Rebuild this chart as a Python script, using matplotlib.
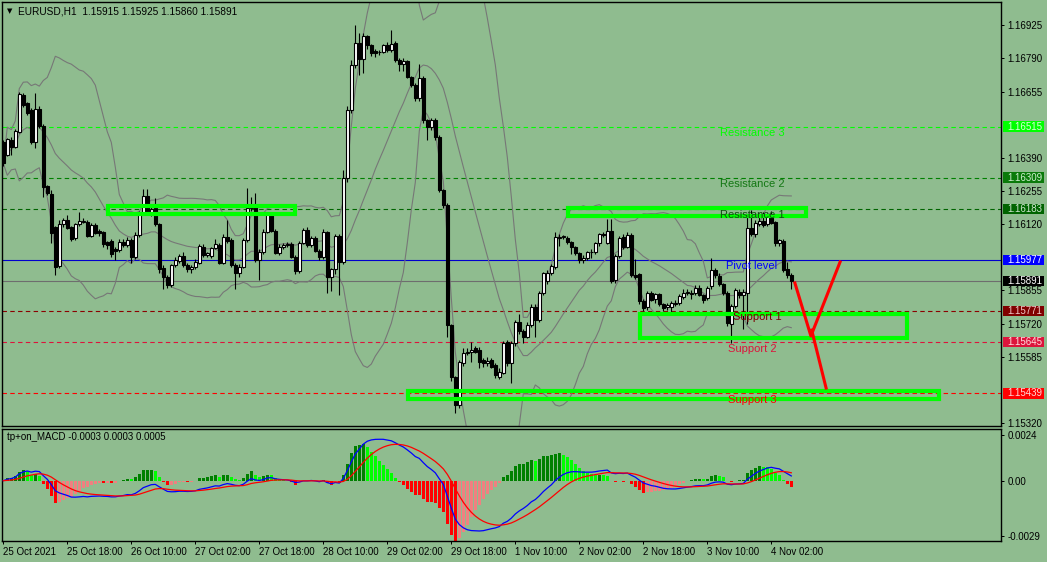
import numpy as np
import pandas as pd
import matplotlib
matplotlib.use('Agg')
import matplotlib.pyplot as plt
import matplotlib.transforms as mtransforms
from matplotlib.patches import Rectangle

plt.rcParams['font.family'] = ['Liberation Sans', 'DejaVu Sans']

# ----------------
# DATA (EURUSD H1, 25 Oct 02:00 .. 4 Nov 07:00)
# ----------------

opens = [
    1.16454, 1.16400, 1.16461, 1.16434, 1.16495, 1.16642, 1.16609, 1.16582, 1.16454, 1.16585,
    1.16517, 1.16275, 1.16243, 1.16111, 1.15952, 1.16122, 1.16138, 1.16111, 1.16064, 1.16122,
    1.16131, 1.16131, 1.16073, 1.16118, 1.16095, 1.16088, 1.16048, 1.16055, 1.16020, 1.16017,
    1.16051, 1.16036, 1.16057, 1.15990, 1.16078, 1.16168, 1.16235, 1.16165, 1.16185, 1.16122,
    1.15943, 1.15909, 1.15876, 1.15957, 1.15974, 1.15993, 1.15957, 1.15939, 1.15950, 1.15966,
    1.16030, 1.15997, 1.15993, 1.16024, 1.16037, 1.15966, 1.16071, 1.16057, 1.15957, 1.15923,
    1.15950, 1.16057, 1.16185, 1.16192, 1.15977, 1.16010, 1.16091, 1.16165, 1.16095, 1.16006,
    1.16030, 1.16037, 1.16040, 1.15990, 1.15934, 1.16047, 1.16098, 1.16037, 1.16064, 1.16014,
    1.15987, 1.16091, 1.15909, 1.15939, 1.16074, 1.15970, 1.16306, 1.16582, 1.16763, 1.16851,
    1.16786, 1.16880, 1.16844, 1.16821, 1.16815, 1.16816, 1.16844, 1.16824, 1.16851, 1.16784,
    1.16766, 1.16780, 1.16716, 1.16683, 1.16629, 1.16710, 1.16542, 1.16515, 1.16540, 1.16474,
    1.16259, 1.16199, 1.15714, 1.15506, 1.15392, 1.15560, 1.15603, 1.15604, 1.15620, 1.15614,
    1.15573, 1.15560, 1.15573, 1.15553, 1.15506, 1.15520, 1.15647, 1.15560, 1.15643, 1.15728,
    1.15690, 1.15667, 1.15715, 1.15788, 1.15735, 1.15843, 1.15890, 1.15923, 1.15948, 1.16067,
    1.16069, 1.16065, 1.16051, 1.16031, 1.16004, 1.15975, 1.15984, 1.16007, 1.16007, 1.16044,
    1.16081, 1.16047, 1.16092, 1.15897, 1.15991, 1.16069, 1.16031, 1.16078, 1.15917, 1.15919,
    1.15813, 1.15786, 1.15843, 1.15821, 1.15838, 1.15800, 1.15786, 1.15789, 1.15800, 1.15805,
    1.15829, 1.15843, 1.15840, 1.15843, 1.15863, 1.15836, 1.15823, 1.15870, 1.15937, 1.15914,
    1.15879, 1.15843, 1.15719, 1.15792, 1.15849, 1.15836, 1.15843, 1.16105, 1.16082, 1.16122,
    1.16135, 1.16122, 1.16162, 1.16130, 1.16044, 1.16053, 1.15939, 1.15915,
]
highs = [
    1.16460, 1.16470, 1.16474, 1.16505, 1.16656, 1.16652, 1.16615, 1.16590, 1.16649, 1.16600,
    1.16525, 1.16279, 1.16259, 1.16115, 1.16138, 1.16145, 1.16158, 1.16115, 1.16128, 1.16172,
    1.16145, 1.16138, 1.16125, 1.16125, 1.16100, 1.16095, 1.16055, 1.16060, 1.16030, 1.16060,
    1.16060, 1.16070, 1.16065, 1.16090, 1.16175, 1.16262, 1.16262, 1.16195, 1.16225, 1.16128,
    1.15955, 1.15915, 1.15962, 1.15990, 1.16000, 1.16010, 1.15965, 1.15958, 1.15980, 1.16040,
    1.16040, 1.16010, 1.16030, 1.16060, 1.16045, 1.16080, 1.16138, 1.16065, 1.15965, 1.15960,
    1.16065, 1.16266, 1.16230, 1.16246, 1.16020, 1.16100, 1.16172, 1.16172, 1.16100, 1.16040,
    1.16045, 1.16050, 1.16048, 1.15995, 1.16055, 1.16105, 1.16110, 1.16075, 1.16075, 1.16020,
    1.16100, 1.16095, 1.15945, 1.16080, 1.16080, 1.16340, 1.16600, 1.16784, 1.16925, 1.16891,
    1.16891, 1.16885, 1.16850, 1.16830, 1.16825, 1.16850, 1.16855, 1.16905, 1.16860, 1.16790,
    1.16790, 1.16785, 1.16720, 1.16690, 1.16766, 1.16720, 1.16545, 1.16550, 1.16550, 1.16480,
    1.16265, 1.16205, 1.15720, 1.15510, 1.15575, 1.15620, 1.15620, 1.15647, 1.15630, 1.15625,
    1.15580, 1.15585, 1.15580, 1.15560, 1.15540, 1.15650, 1.15655, 1.15650, 1.15735, 1.15760,
    1.15700, 1.15725, 1.15800, 1.15800, 1.15850, 1.15930, 1.15935, 1.15960, 1.16090, 1.16080,
    1.16078, 1.16075, 1.16055, 1.16035, 1.16010, 1.15995, 1.16015, 1.16020, 1.16050, 1.16085,
    1.16090, 1.16141, 1.16141, 1.16000, 1.16075, 1.16080, 1.16090, 1.16085, 1.15980, 1.15925,
    1.15820, 1.15850, 1.15850, 1.15845, 1.15845, 1.15805, 1.15805, 1.15810, 1.15815, 1.15840,
    1.15860, 1.15860, 1.15855, 1.15875, 1.15875, 1.15840, 1.15870, 1.15984, 1.15945, 1.15925,
    1.15885, 1.15850, 1.15800, 1.15865, 1.15860, 1.15860, 1.16160, 1.16179, 1.16140, 1.16165,
    1.16170, 1.16165, 1.16175, 1.16135, 1.16062, 1.16060, 1.15970, 1.15925,
]
lows = [
    1.16355, 1.16395, 1.16400, 1.16430, 1.16488, 1.16595, 1.16560, 1.16445, 1.16427, 1.16510,
    1.16232, 1.16239, 1.16044, 1.15916, 1.15945, 1.16111, 1.16100, 1.16053, 1.16058, 1.16115,
    1.16125, 1.16068, 1.16068, 1.16080, 1.16075, 1.16030, 1.16020, 1.15990, 1.15977, 1.16010,
    1.16030, 1.16030, 1.15966, 1.15980, 1.16070, 1.16160, 1.16160, 1.16155, 1.16115, 1.15925,
    1.15858, 1.15865, 1.15866, 1.15950, 1.15965, 1.15950, 1.15930, 1.15925, 1.15940, 1.15960,
    1.15990, 1.15990, 1.15985, 1.16020, 1.15960, 1.15960, 1.16045, 1.15950, 1.15858, 1.15910,
    1.15945, 1.16050, 1.16175, 1.15970, 1.15896, 1.16000, 1.16085, 1.16090, 1.16000, 1.15995,
    1.16020, 1.16030, 1.15983, 1.15920, 1.15925, 1.16040, 1.16030, 1.16030, 1.16008, 1.15975,
    1.15980, 1.15842, 1.15850, 1.15920, 1.15835, 1.15960, 1.16290, 1.16570, 1.16750, 1.16723,
    1.16730, 1.16830, 1.16800, 1.16795, 1.16805, 1.16810, 1.16815, 1.16815, 1.16775, 1.16740,
    1.16740, 1.16710, 1.16675, 1.16620, 1.16620, 1.16530, 1.16461, 1.16500, 1.16460, 1.16250,
    1.16185, 1.15667, 1.15490, 1.15358, 1.15380, 1.15550, 1.15595, 1.15566, 1.15600, 1.15540,
    1.15545, 1.15550, 1.15540, 1.15499, 1.15495, 1.15515, 1.15550, 1.15479, 1.15630, 1.15680,
    1.15640, 1.15660, 1.15705, 1.15667, 1.15725, 1.15835, 1.15880, 1.15915, 1.15940, 1.16035,
    1.16060, 1.16040, 1.16000, 1.15995, 1.15965, 1.15965, 1.15975, 1.15985, 1.16000, 1.16035,
    1.16070, 1.16040, 1.15883, 1.15885, 1.15985, 1.16020, 1.16025, 1.15910, 1.15900, 1.15800,
    1.15770, 1.15775, 1.15810, 1.15805, 1.15790, 1.15770, 1.15775, 1.15765, 1.15790, 1.15795,
    1.15820, 1.15835, 1.15820, 1.15835, 1.15830, 1.15805, 1.15815, 1.15860, 1.15905, 1.15870,
    1.15835, 1.15710, 1.15641, 1.15785, 1.15825, 1.15700, 1.15720, 1.16075, 1.16070, 1.16115,
    1.16110, 1.16115, 1.16120, 1.16035, 1.16035, 1.15930, 1.15905, 1.15860,
]
closes = [
    1.16367, 1.16464, 1.16434, 1.16499, 1.16647, 1.16602, 1.16568, 1.16454, 1.16585, 1.16517,
    1.16273, 1.16246, 1.16084, 1.15950, 1.16122, 1.16138, 1.16107, 1.16060, 1.16122, 1.16135,
    1.16135, 1.16073, 1.16118, 1.16087, 1.16084, 1.16041, 1.16037, 1.16001, 1.16014, 1.16051,
    1.16036, 1.16057, 1.15987, 1.16078, 1.16168, 1.16235, 1.16165, 1.16181, 1.16122, 1.15939,
    1.15909, 1.15876, 1.15957, 1.15977, 1.15993, 1.15957, 1.15939, 1.15950, 1.15970, 1.16033,
    1.15997, 1.16003, 1.16024, 1.16040, 1.15966, 1.16071, 1.16055, 1.15957, 1.15923, 1.15950,
    1.16057, 1.16185, 1.16192, 1.15977, 1.16010, 1.16091, 1.16165, 1.16095, 1.16006, 1.16030,
    1.16037, 1.16040, 1.15990, 1.15934, 1.16047, 1.16098, 1.16037, 1.16064, 1.16014, 1.15987,
    1.16091, 1.15909, 1.15939, 1.16074, 1.15970, 1.16306, 1.16582, 1.16763, 1.16851, 1.16786,
    1.16880, 1.16844, 1.16810, 1.16810, 1.16818, 1.16843, 1.16824, 1.16848, 1.16784, 1.16766,
    1.16780, 1.16716, 1.16683, 1.16629, 1.16710, 1.16542, 1.16515, 1.16540, 1.16474, 1.16259,
    1.16199, 1.15714, 1.15506, 1.15392, 1.15566, 1.15603, 1.15607, 1.15614, 1.15607, 1.15566,
    1.15560, 1.15570, 1.15546, 1.15513, 1.15526, 1.15643, 1.15560, 1.15643, 1.15728, 1.15690,
    1.15667, 1.15715, 1.15788, 1.15735, 1.15843, 1.15923, 1.15926, 1.15953, 1.16069, 1.16071,
    1.16072, 1.16051, 1.16031, 1.16004, 1.15977, 1.15984, 1.16007, 1.16011, 1.16044, 1.16081,
    1.16078, 1.16092, 1.15890, 1.15991, 1.16065, 1.16031, 1.16078, 1.15917, 1.15910, 1.15813,
    1.15782, 1.15843, 1.15816, 1.15838, 1.15800, 1.15782, 1.15796, 1.15802, 1.15805, 1.15833,
    1.15845, 1.15849, 1.15843, 1.15863, 1.15836, 1.15816, 1.15863, 1.15937, 1.15917, 1.15879,
    1.15843, 1.15722, 1.15792, 1.15856, 1.15836, 1.15849, 1.16105, 1.16082, 1.16125, 1.16135,
    1.16118, 1.16158, 1.16127, 1.16044, 1.16057, 1.15936, 1.15916, 1.15891,
]

time_labels = ['25 Oct 2021', '25 Oct 18:00', '26 Oct 10:00', '27 Oct 02:00', '27 Oct 18:00',
               '28 Oct 10:00', '29 Oct 02:00', '29 Oct 18:00', '1 Nov 10:00', '2 Nov 02:00',
               '2 Nov 18:00', '3 Nov 10:00', '4 Nov 02:00']
time_label_bars = [0, 16, 32, 48, 64, 80, 96, 112, 128, 144, 160, 176, 192]

price_ticks = [1.16925, 1.16790, 1.16655, 1.16390, 1.16255, 1.16120,
               1.15855, 1.15720, 1.15585, 1.15320]

level_names = ['Resistance 3', 'Resistance 2', 'Resistance 1', 'Pivot level',
               'Support 1', 'Support 2', 'Support 3']
level_prices = [1.16515, 1.16309, 1.16183, 1.15977, 1.15771, 1.15645, 1.15439]
level_label_bars = [179.2, 179.2, 179.2, 180.7, 182.4, 181.2, 181.2]

last_price = 1.15891

# zones: bar from, bar to, price low, price high
zone_x0 = [26.2, 141.2, 159.1, 101.2]
zone_x1 = [72.9, 200.7, 225.9, 233.9]
zone_lo = [1.16163, 1.16153, 1.15662, 1.15417]
zone_hi = [1.16195, 1.16186, 1.15760, 1.15447]

# hand drawn projection
proj_a_bars = [197.9, 201.9, 209.2]
proj_a_prices = [1.15884, 1.15670, 1.15969]
proj_b_bars = [202.1, 205.7]
proj_b_prices = [1.15694, 1.15460]

macd_title = 'tp+on_MACD -0.0003 0.0003 0.0005'
chart_title = 'EURUSD,H1  1.15915 1.15925 1.15860 1.15891'

# ----------------
# STYLE
# ----------------

BG = '#8FBC8F'
line_colors = ['#00FF00', '#008000', '#006400', '#0000CD', '#8B0000', '#DC143C', '#FF0000']
text_colors = ['#00FF00', '#147814', '#0F4F0F', '#0000FF', '#7A0000', '#DC143C', '#FF0000']
box_colors = ['#00FF00', '#0A7A0A', '#006400', '#0000FF', '#800000', '#DC143C', '#FF0000']
box_text = ['#D8FFD8', '#CFEFCF', '#CFE6CF', '#FFFFFF', '#F0C8C8', '#FFE0E0', '#FFD8D8']

W, H = 1047, 562
PX = 0.72  # one pixel in points


def rect(l, t, r, b):
    return [l / W, 1 - b / H, (r - l) / W, (b - t) / H]


fig = plt.figure(figsize=(W / 100, H / 100), dpi=100, facecolor=BG)
ax = fig.add_axes(rect(2, 2, 1001.3, 425.7), facecolor=BG)
axm = fig.add_axes(rect(2, 429, 1001.3, 540.7), facecolor=BG)

n = len(closes)
x = np.arange(n)
xlim = (-0.325, 249.5)

for a in (ax, axm):
    a.set_xlim(*xlim)
    for s in a.spines.values():
        s.set_color('black')
        s.set_linewidth(1.0)
    a.yaxis.tick_right()
    a.tick_params(axis='y', direction='out', length=2.3, width=PX, pad=2.2,
                  labelsize=7, colors='black')

# ---- price panel ----
ax.set_ylim(1.153081, 1.170178)
ax.set_xticks([])
ax.set_yticks(price_ticks)
ax.set_yticklabels(['%.5f' % p for p in price_ticks])

close_s = pd.Series(closes)
mid = close_s.rolling(20, min_periods=1).mean()
sd = close_s.rolling(20, min_periods=1).std(ddof=0)
for band in (mid, mid + 2 * sd, mid - 2 * sd):
    ax.plot(x, band, color='#777777', lw=0.8, zorder=2)

for i, (nm, p) in enumerate(zip(level_names, level_prices)):
    ls = '-' if nm == 'Pivot level' else (0, (4, 3))
    ax.axhline(p, color=line_colors[i], lw=0.8, ls=ls, zorder=1)
ax.axhline(last_price, color='#6E6E6E', lw=0.8, zorder=1)

o = np.array(opens)
c = np.array(closes)
ax.vlines(x, lows, highs, color='black', lw=0.8, zorder=3)
up = c >= o
ax.bar(x, np.abs(c - o), bottom=np.minimum(o, c), width=0.62,
       color=np.where(up, 'white', 'black'), edgecolor='black', lw=0.8, zorder=4)

for x0, x1, lo, hi in zip(zone_x0, zone_x1, zone_lo, zone_hi):
    ax.add_patch(Rectangle((x0, lo), x1 - x0, hi - lo, fill=False,
                           ec='#00FF00', lw=3.0, zorder=5, joinstyle='miter'))

ax.plot(proj_a_bars, proj_a_prices, color='#FF0000', lw=2.2, zorder=6)
ax.plot(proj_b_bars, proj_b_prices, color='#FF0000', lw=2.2, zorder=6)

for i, (nm, p) in enumerate(zip(level_names, level_prices)):
    ax.annotate(nm, xy=(level_label_bars[i], p), xytext=(0, -1.5),
                textcoords='offset pixels', va='top', ha='left',
                fontsize=8, color=text_colors[i], zorder=7)

# right-hand price boxes
btr = mtransforms.blended_transform_factory(ax.transAxes, ax.transData)
box_h = 10.5 / 24782
box_prices = level_prices + [last_price]
box_fc = box_colors + ['#000000']
box_tc = box_text + ['#FFFFFF']
for p, fc, tc in zip(box_prices, box_fc, box_tc):
    ax.add_patch(Rectangle((1.0022, p - box_h / 2), 0.0405, box_h, transform=btr,
                           fc=fc, ec='none', clip_on=False, zorder=8))
    ax.text(1.0057, p, '%.5f' % p, transform=btr, fontsize=7, color=tc,
            va='center', ha='left', clip_on=False, zorder=9)

fig.text(10 / W, 1 - 11.5 / H, '\u25BC', fontsize=5, family='DejaVu Sans',
         ha='center', va='center', color='black')
fig.text(18 / W, 1 - 11 / H, chart_title, fontsize=7.3, ha='left', va='center',
         color='black')

# ---- MACD panel ----
ema_fast = close_s.ewm(span=12, adjust=False).mean()
ema_slow = close_s.ewm(span=26, adjust=False).mean()
macd = ema_fast - ema_slow
signal = macd.ewm(span=9, adjust=False).mean()
# the indicator draws its histogram at twice the main/signal gap
hist = 2.0 * (macd - signal).values

prev = np.concatenate([[0.0], hist[:-1]])
hcol = np.where(hist >= 0,
                np.where(hist >= prev, '#008000', '#00FF00'),
                np.where(hist <= prev, '#FF0000', '#F08080'))
axm.bar(x, hist, width=0.75, color=hcol, lw=0, zorder=2)
axm.plot(x, macd, color='#0000FF', lw=0.9, zorder=3)
axm.plot(x, signal, color='#FF0000', lw=0.9, zorder=3)

axm.set_ylim(-0.00317, 0.002732)
axm.set_yticks([0.0024, 0.0, -0.0029])
axm.set_yticklabels(['0.0024', '0.00', '-0.0029'])
axm.set_xticks(time_label_bars)
axm.set_xticklabels(time_labels, ha='left')
axm.tick_params(axis='x', direction='out', length=2.3, width=PX, pad=2.5,
                labelsize=7, colors='black')
axm.text(5 / 999.3, 1 - 8 / 111.7, macd_title, transform=axm.transAxes,
         fontsize=7, ha='left', va='center', color='black')

fig.savefig('out.png', dpi=100, facecolor=BG)
